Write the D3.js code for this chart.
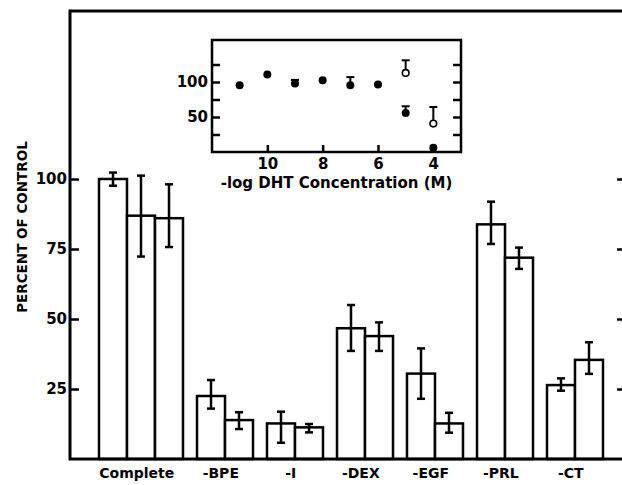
<!DOCTYPE html>
<html>
<head>
<meta charset="utf-8">
<script src="https://cdn.jsdelivr.net/npm/d3@7"></script>
<style>
  body { margin: 0; background: #fff; overflow: hidden; }
  svg { display: block; }
  text { font-family: "DejaVu Sans", "Liberation Sans", Arial, sans-serif; font-weight: bold; fill: #000; }
</style>
</head>
<body>
<div id="chart"></div>
<script>
// datos
const categories = ["Complete", "-BPE", "-I", "-DEX", "-EGF", "-PRL", "-CT"];
const barValues = [[100, 86.9, 86], [22.5, 13.9], [12.7, 11.3], [46.7, 43.9], [30.5, 12.7], [83.8, 71.9], [26.4, 35.4]];
const errLow = [[97.6, 72.3, 75.7], [18, 10.7], [5.8, 9.5], [38.6, 38.6], [21.5, 9.4], [76.8, 67.9], [24.4, 30.4]];
const errHigh = [[102.3, 101.2, 98.1], [28.2, 16.7], [16.9, 12.5], [55, 48.8], [39.5, 16.5], [91.9, 75.5], [28.8, 41.7]];
const yTicks = [25, 50, 75, 100];

// inserto: -log DHT
const dhtX = [11, 10, 9, 8, 7, 6, 5, 4];
const dhtFilled = [95.3, 110.6, 97.7, 102.4, 95.3, 96.3, 55.7, 6];
const dhtFilledErr = [null, null, 103, null, 107, null, 65.3, null];
const dhtOpenX = [5, 4];
const dhtOpen = [112.9, 40.6];
const dhtOpenErr = [131, 64.3];
const insetYTicks = [25, 50, 75, 100, 125];
const insetXTicks = [10, 8, 6, 4];

const width = 622;
const height = 485;
const margin = { top: 11, right: -4, bottom: 26, left: 70 };
const innerWidth = width - margin.left - margin.right;
const innerHeight = height - margin.top - margin.bottom;

const svg = d3.select("#chart")
  .append("svg")
  .attr("width", width)
  .attr("height", height);

const g = svg.append("g")
  .attr("transform", `translate(${margin.left},${margin.top})`);

// posicion de cada barra en "unidades de barra", con medio hueco entre grupos
let pos = 0;
const bars = [];
const groups = [];
categories.forEach((c, i) => {
  groups.push({ cat: c, start: pos, n: barValues[i].length });
  barValues[i].forEach((v, j) => {
    bars.push({ cat: c, u: pos + j, value: v, lo: errLow[i][j], hi: errHigh[i][j] });
  });
  pos += barValues[i].length + 0.5;
});

const xScale = d3.scaleLinear()
  .domain([0, pos - 0.5])
  .range([29, 533]);
const bw = xScale(1) - xScale(0);

const yScale = d3.scaleLinear()
  .domain([0, 160])
  .range([innerHeight, 0]);

// ejes con marcas hacia adentro
const yAxisL = g.append("g")
  .call(d3.axisLeft(yScale).tickValues(yTicks).tickSizeInner(-9).tickSizeOuter(0).tickPadding(3));
yAxisL.select(".domain").remove();
yAxisL.selectAll("line").attr("stroke-width", 2.5);
yAxisL.selectAll("text")
  .style("font-size", "15px")
  .style("font-family", "DejaVu Sans, Arial")
  .style("font-weight", "bold")
  .attr("fill", "#000");

const yAxisR = g.append("g")
  .attr("transform", `translate(${innerWidth},0)`)
  .call(d3.axisRight(yScale).tickValues(yTicks).tickSizeInner(-9).tickSizeOuter(0));
yAxisR.select(".domain").remove();
yAxisR.selectAll("text").remove();
yAxisR.selectAll("line").attr("stroke-width", 2.5);

// barras
g.selectAll("rect.bar")
  .data(bars)
  .enter()
  .append("rect")
  .attr("class", "bar")
  .attr("x", (d) => xScale(d.u))
  .attr("y", (d) => yScale(d.value))
  .attr("width", bw)
  .attr("height", (d) => innerHeight - yScale(d.value))
  .attr("fill", "white")
  .attr("stroke", "black")
  .attr("stroke-width", 2.5);

// barras de error
const err = g.selectAll("g.err")
  .data(bars)
  .enter()
  .append("g")
  .attr("class", "err")
  .attr("stroke", "black")
  .attr("stroke-width", 2.5);
err.append("line")
  .attr("x1", (d) => xScale(d.u + 0.5))
  .attr("x2", (d) => xScale(d.u + 0.5))
  .attr("y1", (d) => yScale(d.lo))
  .attr("y2", (d) => yScale(d.hi));
err.append("line")
  .attr("x1", (d) => xScale(d.u + 0.5) - 4)
  .attr("x2", (d) => xScale(d.u + 0.5) + 4)
  .attr("y1", (d) => yScale(d.lo))
  .attr("y2", (d) => yScale(d.lo));
err.append("line")
  .attr("x1", (d) => xScale(d.u + 0.5) - 4)
  .attr("x2", (d) => xScale(d.u + 0.5) + 4)
  .attr("y1", (d) => yScale(d.hi))
  .attr("y2", (d) => yScale(d.hi));

// marco
g.append("rect")
  .attr("width", innerWidth)
  .attr("height", innerHeight)
  .attr("fill", "none")
  .attr("stroke", "black")
  .attr("stroke-width", 3);

// etiquetas de categorias
g.selectAll("text.cat")
  .data(groups)
  .enter()
  .append("text")
  .attr("class", "cat")
  .attr("x", (d) => xScale(d.start + d.n / 2))
  .attr("dx", "-0.3em")
  .attr("y", innerHeight + 19)
  .attr("text-anchor", "middle")
  .style("font-size", "14px")
  .text((d) => d.cat);

svg.append("text")
  .attr("transform", "rotate(-90)")
  .attr("x", -227)
  .attr("y", 27)
  .attr("text-anchor", "middle")
  .style("font-size", "13.5px")
  .text("PERCENT OF CONTROL");

// ---- inserto ----
const inset = { left: 212, top: 40, right: 461, bottom: 152 };

const xIn = d3.scaleLinear()
  .domain([12, 3])
  .range([inset.left, inset.right]);
const yIn = d3.scaleLinear()
  .domain([0, 160])
  .range([inset.bottom, inset.top]);

svg.append("rect")
  .attr("x", inset.left)
  .attr("y", inset.top)
  .attr("width", inset.right - inset.left)
  .attr("height", inset.bottom - inset.top)
  .attr("fill", "white")
  .attr("stroke", "black")
  .attr("stroke-width", 2.5);

const inL = svg.append("g")
  .attr("transform", `translate(${inset.left},0)`)
  .call(d3.axisLeft(yIn).tickValues(insetYTicks).tickSizeInner(-8).tickSizeOuter(0).tickPadding(4)
    .tickFormat((d) => (d === 50 || d === 100 ? d : "")));
const inR = svg.append("g")
  .attr("transform", `translate(${inset.right},0)`)
  .call(d3.axisRight(yIn).tickValues(insetYTicks).tickSizeInner(-8).tickSizeOuter(0));
const inB = svg.append("g")
  .attr("transform", `translate(0,${inset.bottom})`)
  .call(d3.axisBottom(xIn).tickValues(insetXTicks).tickSizeInner(-7).tickSizeOuter(0).tickPadding(6));
inR.selectAll("text").remove();

[inL, inR, inB].forEach((a) => {
  a.select(".domain").remove();
  a.selectAll("line").attr("stroke-width", 2.5);
  a.selectAll("text").filter(function () { return this.textContent === ""; }).remove();
  a.selectAll("text")
    .style("font-size", "15px")
    .style("font-family", "DejaVu Sans, Arial")
    .style("font-weight", "bold")
    .attr("fill", "#000");
});

svg.append("text")
  .attr("x", (inset.left + inset.right) / 2)
  .attr("y", 188)
  .attr("text-anchor", "middle")
  .style("font-size", "15px")
  .text("-log DHT Concentration (M)");

const filled = dhtX.map((x, i) => ({ x, y: dhtFilled[i], e: dhtFilledErr[i] }));
const open = dhtOpenX.map((x, i) => ({ x, y: dhtOpen[i], e: dhtOpenErr[i] }));

// barras de error de un solo lado
const inErr = svg.append("g")
  .attr("stroke", "black")
  .attr("stroke-width", 2);
[...filled, ...open].filter((d) => d.e != null).forEach((d) => {
  inErr.append("line")
    .attr("x1", xIn(d.x)).attr("x2", xIn(d.x))
    .attr("y1", yIn(d.y)).attr("y2", yIn(d.e));
  inErr.append("line")
    .attr("x1", xIn(d.x) - 4).attr("x2", xIn(d.x) + 4)
    .attr("y1", yIn(d.e)).attr("y2", yIn(d.e));
});

svg.append("g")
  .selectAll("circle")
  .data(filled)
  .enter()
  .append("circle")
  .attr("cx", (d) => xIn(d.x))
  .attr("cy", (d) => yIn(d.y))
  .attr("r", 4)
  .attr("fill", "black");

svg.append("g")
  .selectAll("circle")
  .data(open)
  .enter()
  .append("circle")
  .attr("cx", (d) => xIn(d.x))
  .attr("cy", (d) => yIn(d.y))
  .attr("r", 3.3)
  .attr("fill", "white")
  .attr("stroke", "black")
  .attr("stroke-width", 1.6);
</script>
</body>
</html>
